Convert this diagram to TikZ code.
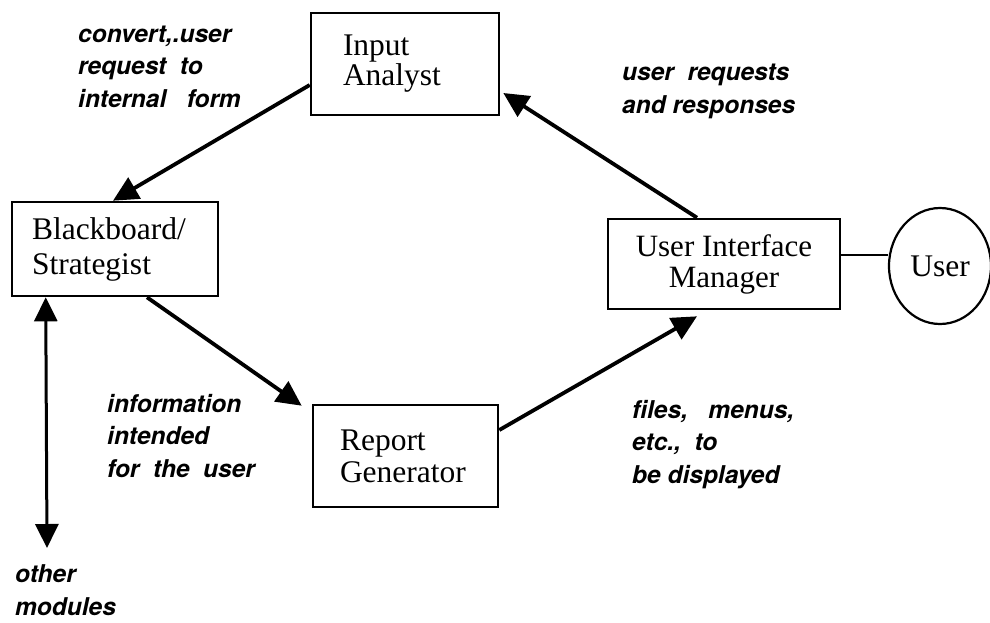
\documentclass[tikz,border=0pt]{standalone}
\usepackage{fontspec}
\setmainfont{Liberation Serif}
\newfontfamily\labfont{TeX Gyre Heros}
\usetikzlibrary{arrows.meta,shapes.geometric}
\begin{document}
\begin{tikzpicture}[x=1pt,y=-1pt,
  box/.style={draw, line width=2.6pt, inner ysep=0pt, align=left},
  lab/.style={font=\labfont\bfseries\itshape\fontsize{24.5}{32.5}\selectfont, align=left, inner sep=0pt, anchor=base west},
  arr/.style={line width=3.8pt, -{Triangle[length=25pt,width=24pt]}},
  darr/.style={line width=3pt, {Triangle[length=24pt,width=23pt]}-{Triangle[length=24pt,width=23pt]}}
]
\useasboundingbox (0,0) rectangle (990,622);

\node[box, minimum height=102pt, text width=124pt, inner xsep=32pt,
  font=\fontsize{31.5}{30}\selectfont] (ia) at (405,64) {Input\\Analyst};
\node[box, minimum height=94pt, text width=166pt, inner xsep=20pt,
  font=\fontsize{31.5}{35}\selectfont] (bb) at (115,249) {Blackboard/\\Strategist};
\node[box, minimum height=102pt, text width=131pt, inner xsep=27pt,
  font=\fontsize{31.5}{32}\selectfont] (rg) at (405.5,456) {Report\\Generator};
\node[box, minimum height=90pt, minimum width=232pt, inner xsep=0pt, align=center,
  font=\fontsize{31}{31}\selectfont] (uim) at (724,264) {User Interface\\Manager};
\node[draw, ellipse, line width=2.2pt, minimum width=102pt, minimum height=116pt,
  inner sep=0pt, font=\fontsize{31.5}{32}\selectfont] (user) at (940,266) {User};

\coordinate (om) at (47,548);

\draw[arr] ([yshift=-21pt]ia.west) -- ([xshift=-2pt]bb.north);
\draw[arr] ([xshift=-27pt]uim.north) -- ([xshift=3pt,yshift=-29pt]ia.east);
\draw[arr] ([xshift=32pt]bb.south) -- ([xshift=-10pt,yshift=-2pt]rg.north west);
\draw[arr] ([yshift=26pt]rg.east) -- ([xshift=-27pt,yshift=-6pt]uim.south);
\draw[darr] ([xshift=35pt]bb.south west) -- (om);
\draw[line width=2.2pt] ([yshift=9pt]uim.east) -- ([yshift=9pt]uim.east -| user.west);

\node[lab] (l1) at (78,107) {convert,.user\\request~ to\\internal~~ form};
\node[lab] (l2) at (622,113) {user~ requests\\and responses};
\node[lab] (l3) at (107,477) {information\\intended\\for~ the~ user};
\node[lab] (l4) at (632,483) {files,~~ menus,\\etc.,~ to\\be displayed};
\node[lab] (l5) at (15,615) {other\\modules};
\end{tikzpicture}
\end{document}
